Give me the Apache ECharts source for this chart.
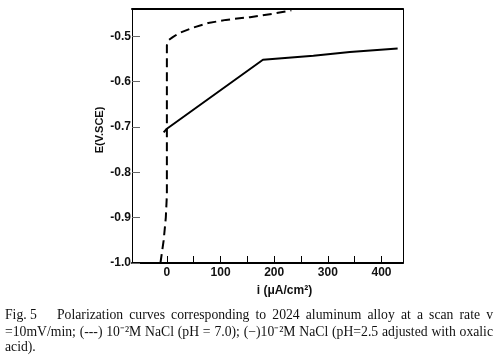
<!DOCTYPE html>
<html><head><meta charset="utf-8">
<script src="https://cdn.jsdelivr.net/npm/echarts@6/dist/echarts.min.js"></script>
<style>html,body{margin:0;padding:0;background:#fff}#c{width:499px;height:355px}</style>
</head><body><div id="c"></div>
<script>
// Dashed curve: 10^-2 M NaCl (pH 7.0)  [i (uA/cm2), E (V vs SCE)]
const dashedI = [-12, -6, -2, 0, 0, 4, 11, 23, 49, 77, 110, 155, 200, 232];
const dashedE = [-1.0, -0.95, -0.9, -0.85, -0.52, -0.508, -0.502, -0.493, -0.481, -0.471, -0.464, -0.458, -0.45, -0.443];
// Solid curve: 10^-2 M NaCl (pH 2.5, oxalic acid)
const solidI = [-6, 0, 179, 273, 341, 430];
const solidE = [-0.712, -0.704, -0.552, -0.543, -0.535, -0.527];
const xTickLabels = [0, 100, 200, 300, 400];
const xTicks = [0, 50, 100, 150, 200, 250, 300, 350, 400];
const yTickLabels = [-1.0, -0.9, -0.8, -0.7, -0.6, -0.5];
const xTitle = 'i (μA/cm²)';
const yTitle = 'E(V.SCE)';
const captionFig = 'Fig. 5';
const captionLine1 = 'Polarization curves corresponding to 2024 aluminum alloy at a scan rate v';
const captionLine2 = '=10mV/min; (---) 10⁻²M NaCl (pH = 7.0); (−)10⁻²M NaCl (pH=2.5 adjusted with oxalic';
const captionLine3 = 'acid).';

const pair = (xs, ys) => xs.map((x, i) => [x, ys[i]]);
const tickFont = {fontFamily: 'Liberation Sans Narrow, Liberation Sans, Arial', fontWeight: 'bold', fontSize: 12, color: '#111'};
const capFamily = 'Liberation Serif, Times New Roman, serif';
const capSize = 13.7;
const capFont = {fontFamily: capFamily, fontSize: capSize, fill: '#111'};

// justified caption lines (word placement)
const ctx = document.createElement('canvas').getContext('2d');
ctx.font = capSize + 'px ' + capFamily;
function justify(text, x0, x1, top) {
  const words = text.split(' ');
  const widths = words.map(w => ctx.measureText(w).width);
  const total = widths.reduce((a, b) => a + b, 0);
  const gap = (x1 - x0 - total) / (words.length - 1);
  let x = x0;
  return words.map((w, i) => {
    const el = {type: 'text', left: x, top: top, style: Object.assign({text: w}, capFont)};
    x += widths[i] + gap;
    return el;
  });
}
const graphics = [{type: 'text', left: 5, top: 308, style: Object.assign({text: captionFig}, capFont)}]
  .concat(justify(captionLine1, 57, 493, 308))
  .concat(justify(captionLine2, 5, 493, 325))
  .concat([{type: 'text', left: 5, top: 340, style: Object.assign({text: captionLine3}, capFont)}]);

const chart = echarts.init(document.getElementById('c'), null, {renderer: 'canvas'});
chart.setOption({
  animation: false,
  backgroundColor: '#fff',
  grid: {left: 132, right: 96, top: 9, bottom: 92, containLabel: false},
  xAxis: [{
    type: 'value', min: -65, max: 440, position: 'bottom',
    axisLine: {show: true, onZero: false, lineStyle: {color: '#000', width: 2}},
    axisTick: {show: true, inside: true, length: 7, customValues: xTicks, lineStyle: {color: '#000', width: 1}},
    axisLabel: Object.assign({margin: 4, customValues: xTickLabels}, tickFont),
    splitLine: {show: false},
    name: xTitle, nameLocation: 'middle', nameGap: 22, nameMoveOverlap: false,
    nameTextStyle: {fontFamily: 'Liberation Sans Narrow, Liberation Sans, Arial', fontWeight: 'bold', fontSize: 12, color: '#111', padding: [0, 0, 0, 34]}
  }, {
    type: 'value', min: -65, max: 440, position: 'top',
    axisLine: {show: true, onZero: false, lineStyle: {color: '#000', width: 2}},
    axisTick: {show: false}, axisLabel: {show: false}, splitLine: {show: false}
  }],
  yAxis: [{
    type: 'value', min: -1.0, max: -0.44, position: 'left',
    axisLine: {show: true, onZero: false, lineStyle: {color: '#000', width: 1}},
    axisTick: {show: true, inside: true, length: 8, customValues: yTickLabels, lineStyle: {color: '#666', width: 1}},
    axisLabel: Object.assign({margin: 1, customValues: yTickLabels, formatter: v => v.toFixed(1)}, tickFont),
    splitLine: {show: false},
    name: yTitle, nameLocation: 'middle', nameGap: 27, nameRotate: 90, nameMoveOverlap: false,
    nameTextStyle: {fontFamily: 'Liberation Sans Narrow, Liberation Sans, Arial', fontWeight: 'bold', fontSize: 11, color: '#111', padding: [0, 0, 0, 12]}
  }, {
    type: 'value', min: -1.0, max: -0.44, position: 'right',
    axisLine: {show: true, onZero: false, lineStyle: {color: '#000', width: 1}},
    axisTick: {show: false}, axisLabel: {show: false}, splitLine: {show: false}
  }],
  series: [{
    type: 'line', data: pair(dashedI, dashedE), showSymbol: false, symbol: 'none',
    lineStyle: {color: '#000', width: 2, type: [9, 5]}, z: 3
  }, {
    type: 'line', data: pair(solidI, solidE), showSymbol: false, symbol: 'none',
    lineStyle: {color: '#000', width: 2, type: 'solid'}, z: 3
  }],
  graphic: graphics
});
</script></body></html>
